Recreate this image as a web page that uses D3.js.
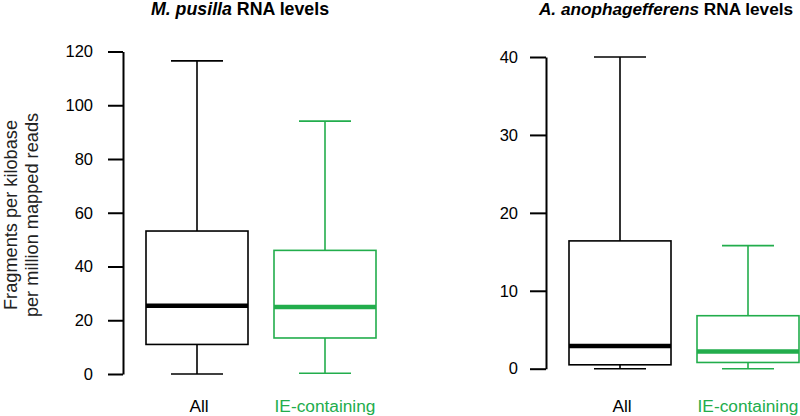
<!DOCTYPE html>
<html>
<head>
<meta charset="utf-8">
<script src="https://cdn.jsdelivr.net/npm/d3@7"></script>
<style>
  html, body { margin: 0; padding: 0; background: #fff; }
  svg { display: block; font-family: "Liberation Sans", Arial, Helvetica, sans-serif; }
</style>
</head>
<body>
<svg id="chart" width="800" height="416"></svg>
<script>
// ---- Data ----
const categories = ["All", "IE-containing"];
// Box stats: [lower whisker, Q1, median, Q3, upper whisker]
const pusillaStats = [
  [0, 11.0, 25.4, 53.2, 116.5],
  [0.3, 13.4, 24.9, 46.0, 94.1]
];
const anophStats = [
  [0, 0.5, 2.9, 16.4, 40.0],
  [0, 0.8, 2.2, 6.8, 15.8]
];
const pusillaTicks = [0, 20, 40, 60, 80, 100, 120];
const anophTicks = [0, 10, 20, 30, 40];
const colors = ["#000000", "#22ad4c"];

const svg = d3.select("#chart");

function panel(opts) {
  const g = svg.append("g");
  const y = d3.scaleLinear().domain(opts.domain).range(opts.yRange);
  const x = d3.scalePoint().domain(categories).range(opts.xRange);
  const boxW = 102, capW = 52;

  // axis
  const ax = g.append("g")
    .attr("transform", `translate(${opts.axisX},0)`)
    .call(d3.axisLeft(y).tickValues(opts.ticks).tickSize(opts.tickSize).tickSizeOuter(0).tickPadding(opts.tickPad));
  ax.select(".domain").attr("stroke-width", 2);
  ax.selectAll(".tick line").attr("stroke-width", 2);
  ax.selectAll(".tick text").attr("font-size", 16.5).attr("fill", "#000")
    .attr("font-family", "'Liberation Sans', Arial, sans-serif");

  opts.stats.forEach((s, i) => {
    const cx = x(categories[i]);
    const c = colors[i];
    const bg = g.append("g").attr("stroke", c).attr("fill", "none");
    // whiskers
    bg.append("line").attr("x1", cx).attr("x2", cx).attr("y1", y(s[3])).attr("y2", y(s[4])).attr("stroke-width", 1.6);
    bg.append("line").attr("x1", cx).attr("x2", cx).attr("y1", y(s[0])).attr("y2", y(s[1])).attr("stroke-width", 1.6);
    bg.append("line").attr("x1", cx - capW / 2).attr("x2", cx + capW / 2).attr("y1", y(s[4])).attr("y2", y(s[4])).attr("stroke-width", 1.6);
    bg.append("line").attr("x1", cx - capW / 2).attr("x2", cx + capW / 2).attr("y1", y(s[0])).attr("y2", y(s[0])).attr("stroke-width", 1.6);
    // box
    bg.append("rect").attr("x", cx - boxW / 2).attr("width", boxW)
      .attr("y", y(s[3])).attr("height", y(s[1]) - y(s[3]))
      .attr("fill", "#fff").attr("stroke-width", 1.6);
    // median
    bg.append("line").attr("x1", cx - boxW / 2).attr("x2", cx + boxW / 2)
      .attr("y1", y(s[2])).attr("y2", y(s[2])).attr("stroke-width", 4.5);
    // category label
    g.append("text").attr("x", cx + (i === 0 ? 2 : 0)).attr("y", 412).attr("text-anchor", "middle")
      .attr("font-size", 17.3).attr("fill", c).text(categories[i]);
  });

  // title
  const t = g.append("text").attr("x", opts.titleX).attr("y", 14.5).attr("text-anchor", "middle")
    .attr("font-size", opts.titleSize).attr("font-weight", "bold");
  t.append("tspan").attr("font-style", "italic").text(opts.species);
  t.append("tspan").text(" RNA levels");
}

panel({
  domain: [0, 120], yRange: [374, 51.5], xRange: [197, 325], axisX: 123,
  ticks: pusillaTicks, tickSize: 15, tickPad: 15, stats: pusillaStats,
  species: "M. pusilla", titleX: 240, titleSize: 17.8
});
panel({
  domain: [0, 40], yRange: [368.7, 57], xRange: [620, 748], axisX: 546,
  ticks: anophTicks, tickSize: 16, tickPad: 12, stats: anophStats,
  species: "A. anophagefferens", titleX: 666, titleSize: 17.2
});

// y-axis label
const yl = svg.append("text").attr("transform", "translate(17,215) rotate(-90)")
  .attr("text-anchor", "middle").attr("font-size", 18.2).attr("fill", "#222");
yl.append("tspan").attr("x", 0).attr("y", 0).text("Fragments per kilobase");
yl.append("tspan").attr("x", 0).attr("y", 20.5).text("per million mapped reads");
</script>
</body>
</html>
